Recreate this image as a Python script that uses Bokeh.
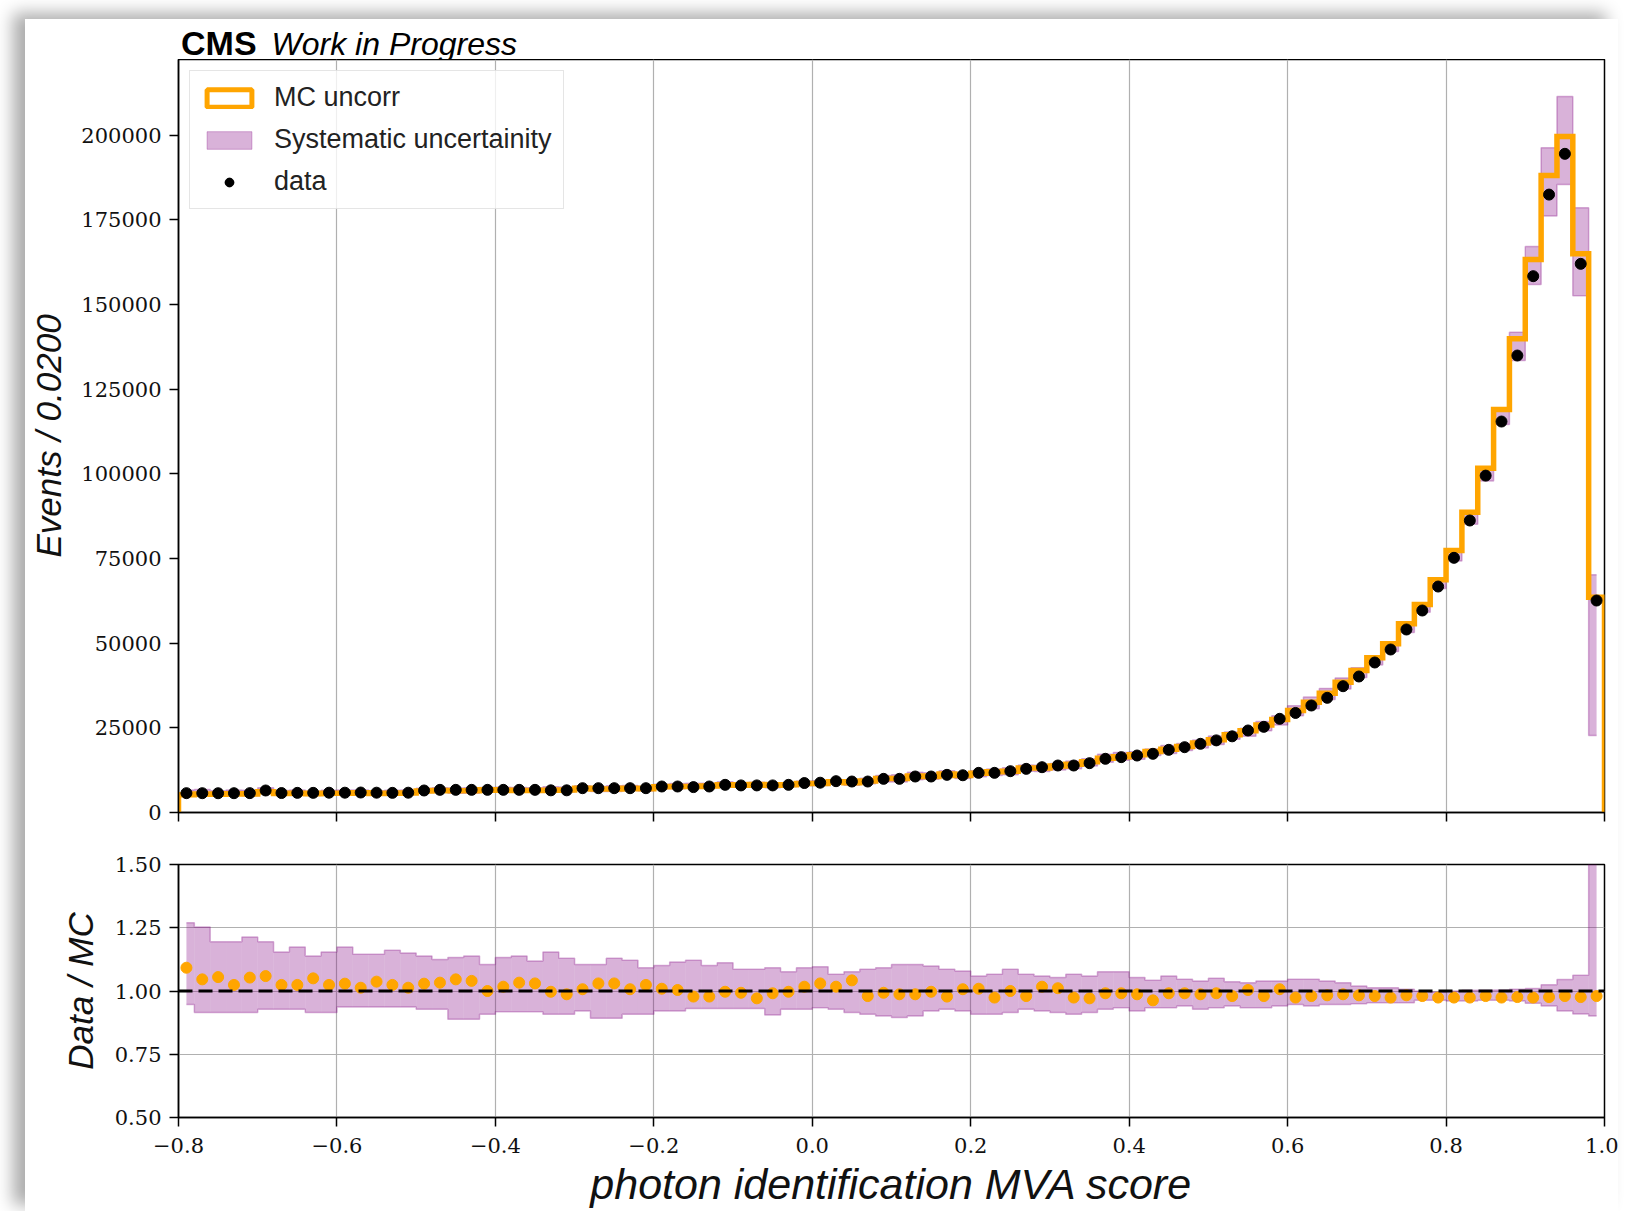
import numpy as np
from bokeh.plotting import figure
from bokeh.models import (Range1d, FixedTicker, CustomJSTickFormatter, Span,
                          Legend, LegendItem, Div)
from bokeh.layouts import column
from bokeh.embed import file_html
from bokeh.resources import INLINE

# ---------------- data ----------------
bin_low, bin_high, n_bins = -0.8, 1.0, 90

data_counts = [5710, 5700, 5690, 5700, 5720, 6500, 5750, 5800, 5800, 5850,
               5850, 5900, 5850, 5800, 5850, 6500, 6690, 6690, 6690, 6690,
               6690, 6690, 6690, 6550, 6550, 7180, 7180, 7180, 7180, 7180,
               7680, 7680, 7500, 7680, 8170, 8000, 8000, 8000, 8170, 8700,
               8800, 9250, 9150, 9150, 9940, 9940, 10630, 10630, 11120, 11000,
               11710, 11710, 12200, 12890, 13380, 13880, 13880, 14570, 15860, 16350,
               16830, 17330, 18510, 19290, 20290, 21300, 22500, 24220, 25300, 27670,
               29400, 31600, 33870, 37300, 40170, 44300, 48140, 54050, 59660, 66740,
               75220, 86240, 99500, 115470, 134970, 158400, 182500, 194540, 162050, 62610]

mc_counts = [5230, 5450, 5390, 5570, 5430, 6140, 5620, 5660, 5520, 5710,
             5690, 5820, 5640, 5660, 5770, 6320, 6480, 6400, 6430, 6690,
             6580, 6480, 6500, 6570, 6640, 7130, 6970, 6970, 7130, 7010,
             7610, 7650, 7670, 7850, 8190, 8060, 8240, 8070, 8190, 8550,
             8540, 9100, 8780, 9340, 10010, 10070, 10770, 10660, 11370, 10920,
             11610, 12020, 12200, 13150, 13160, 13730, 14250, 15010, 16000, 16500,
             17050, 18000, 18680, 19470, 20560, 21490, 22960, 24120, 25820, 27480,
             30150, 32580, 35240, 38490, 41940, 45690, 49820, 55720, 61430, 68720,
             77370, 88700, 101700, 119000, 139900, 163300, 188130, 199650, 165000, 63600]

ratio = [1.092, 1.046, 1.055, 1.024, 1.053, 1.059, 1.024, 1.024, 1.050, 1.024,
         1.029, 1.013, 1.037, 1.024, 1.013, 1.029, 1.033, 1.046, 1.040, 1.000,
         1.017, 1.033, 1.030, 0.997, 0.987, 1.007, 1.030, 1.030, 1.007, 1.024,
         1.009, 1.004, 0.978, 0.978, 0.997, 0.993, 0.971, 0.991, 0.997, 1.017,
         1.030, 1.017, 1.042, 0.980, 0.993, 0.987, 0.987, 0.997, 0.978, 1.007,
         1.009, 0.974, 1.000, 0.980, 1.017, 1.011, 0.974, 0.971, 0.991, 0.991,
         0.987, 0.963, 0.991, 0.991, 0.987, 0.991, 0.980, 1.004, 0.980, 1.007,
         0.974, 0.980, 0.983, 0.987, 0.983, 0.980, 0.974, 0.983, 0.980, 0.974,
         0.974, 0.974, 0.980, 0.974, 0.976, 0.974, 0.976, 0.980, 0.976, 0.980]

syst_ratio_hi = [1.270, 1.253, 1.195, 1.195, 1.213, 1.195, 1.154, 1.174, 1.138, 1.154,
                 1.174, 1.145, 1.145, 1.161, 1.150, 1.138, 1.125, 1.132, 1.138, 1.105,
                 1.132, 1.138, 1.119, 1.154, 1.129, 1.105, 1.105, 1.129, 1.122, 1.092,
                 1.101, 1.115, 1.122, 1.101, 1.112, 1.086, 1.086, 1.092, 1.076, 1.092,
                 1.096, 1.066, 1.076, 1.086, 1.092, 1.105, 1.105, 1.099, 1.086, 1.079,
                 1.059, 1.066, 1.086, 1.066, 1.059, 1.053, 1.066, 1.059, 1.076, 1.076,
                 1.053, 1.042, 1.059, 1.046, 1.040, 1.050, 1.037, 1.033, 1.040, 1.040,
                 1.046, 1.046, 1.040, 1.033, 1.020, 1.013, 1.013, 1.007, 1.000, 0.996,
                 1.000, 1.003, 1.003, 1.004, 1.007, 1.010, 1.025, 1.045, 1.062, 1.620]

syst_ratio_lo = [0.947, 0.915, 0.915, 0.915, 0.915, 0.928, 0.928, 0.928, 0.915, 0.915,
                 0.937, 0.937, 0.937, 0.937, 0.937, 0.928, 0.928, 0.888, 0.888, 0.908,
                 0.918, 0.918, 0.918, 0.908, 0.908, 0.921, 0.892, 0.892, 0.908, 0.908,
                 0.921, 0.921, 0.931, 0.931, 0.931, 0.931, 0.931, 0.905, 0.928, 0.928,
                 0.934, 0.928, 0.915, 0.908, 0.901, 0.895, 0.901, 0.921, 0.928, 0.921,
                 0.908, 0.908, 0.915, 0.928, 0.921, 0.915, 0.908, 0.915, 0.928, 0.934,
                 0.921, 0.934, 0.934, 0.941, 0.928, 0.934, 0.941, 0.934, 0.934, 0.941,
                 0.947, 0.941, 0.947, 0.947, 0.950, 0.954, 0.954, 0.954, 0.963, 0.963,
                 0.960, 0.960, 0.963, 0.963, 0.960, 0.952, 0.941, 0.921, 0.909, 0.901]

# systematic band in the upper panel where it is visible apart from MC (bin index: (low, high))
syst_top_read = {84: (133490, 141850), 85: (155930, 167160), 86: (176200, 196300),
                 87: (185480, 211470), 88: (152600, 178600), 89: (22740, 70200)}

x_ticks = [-0.8, -0.6, -0.4, -0.2, 0.0, 0.2, 0.4, 0.6, 0.8, 1.0]
y_ticks_top = [0, 25000, 50000, 75000, 100000, 125000, 150000, 175000, 200000]
y_ticks_ratio = [0.5, 0.75, 1.0, 1.25, 1.5]
y_max_top = 222400

# ---------------- derived arrays ----------------
edges = np.linspace(bin_low, bin_high, n_bins + 1)
centers = 0.5 * (edges[:-1] + edges[1:])
data_a = np.array(data_counts, float)
mc_a = np.array(mc_counts, float)
r_hi = np.array(syst_ratio_hi)
r_lo = np.array(syst_ratio_lo)
band_top_lo = mc_a * r_lo
band_top_hi = mc_a * r_hi
for i, (lo, hi) in syst_top_read.items():
    band_top_lo[i] = lo
    band_top_hi[i] = hi

# band is drawn from first to last bin centre (step="mid" style)
clipped = np.clip(edges, centers[0], centers[-1])
band_left, band_right = clipped[:-1], clipped[1:]


def step_outline(left, right, vals):
    xs = np.column_stack([left, right]).ravel()
    ys = np.repeat(vals, 2)
    return xs, ys


ORANGE = "#ffa500"
PURPLE = "#800080"
GRID = "#b0b0b0"
SERIF = "DejaVu Serif"
SANS = "Liberation Sans"
NAN1 = [np.nan]

# ---------------- header text ----------------
header = Div(
    text=('<div style="font-family:\'Liberation Sans\'; color:#000; white-space:nowrap; '
          'line-height:32px; padding-top:8px; padding-left:156px;">'
          '<span style="font-weight:bold; font-size:34px;">CMS</span>'
          '<span style="font-style:italic; font-size:32px; margin-left:15px;">Work in Progress</span>'
          '</div>'),
    width=1593, height=40, margin=0)

# ---------------- upper panel ----------------
p = figure(frame_width=1426, frame_height=753,
           x_range=Range1d(bin_low, bin_high), y_range=Range1d(0, y_max_top),
           output_backend="svg", toolbar_location=None, title=None,
           min_border_left=153, min_border_right=14, min_border_top=0, min_border_bottom=26,
           background_fill_color="white", border_fill_color="white")

band_r = p.quad(left=band_left, right=band_right, bottom=band_top_lo, top=band_top_hi,
                fill_color=PURPLE, fill_alpha=0.3, line_color=None)
for arr in (band_top_lo, band_top_hi):
    xs, ys = step_outline(band_left, band_right, arr)
    p.line(xs, ys, line_color=PURPLE, line_alpha=0.3, line_width=1.5)

mc_x = np.repeat(edges, 2)
mc_y = np.concatenate([[0], np.repeat(mc_a, 2), [0]])
p.line(mc_x, mc_y, line_color=ORANGE, line_width=5.5, line_join="miter")

data_r = p.scatter(centers, data_a, size=11, color="black")

# legend proxies (NaN -> not drawn in the plot)
mc_leg = p.quad(left=NAN1, right=NAN1, top=NAN1, bottom=NAN1, fill_color="white",
                line_color=ORANGE, line_width=5)
band_leg = p.quad(left=NAN1, right=NAN1, top=NAN1, bottom=NAN1,
                  fill_color=PURPLE, fill_alpha=0.3, line_color=PURPLE, line_alpha=0.3)
data_leg_cross = p.scatter(x=NAN1, y=NAN1, marker="cross", size=20,
                           line_color="black", line_width=3)
data_leg_dot = p.scatter(x=NAN1, y=NAN1, size=11, color="black")

legend = Legend(items=[
    LegendItem(label="MC uncorr", renderers=[mc_leg]),
    LegendItem(label="Systematic uncertainity", renderers=[band_leg]),
    LegendItem(label="data", renderers=[data_leg_cross, data_leg_dot]),
], location="top_left")
legend.label_text_font = SANS
legend.label_text_font_size = "27px"
legend.label_text_color = "#222222"
legend.glyph_width = 56
legend.glyph_height = 22
legend.label_standoff = 17
legend.label_height = 30
legend.spacing = 11
legend.padding = 11
legend.margin = 11
legend.border_line_color = "#cccccc"
legend.border_line_width = 1.5
legend.background_fill_color = "white"
legend.background_fill_alpha = 0.8
p.add_layout(legend)

p.xaxis.ticker = FixedTicker(ticks=x_ticks)
p.xaxis.formatter = CustomJSTickFormatter(code="return '';")
p.xaxis.major_label_standoff = 0
p.yaxis.ticker = FixedTicker(ticks=y_ticks_top)
p.yaxis.formatter = CustomJSTickFormatter(code="return tick.toFixed(0);")
p.yaxis.axis_label = "Events / 0.0200"
p.yaxis.axis_label_standoff = 10
p.yaxis.major_label_standoff = 8

p.xgrid.ticker = FixedTicker(ticks=x_ticks)
p.ygrid.visible = False

# ---------------- ratio panel ----------------
p2 = figure(frame_width=1426, frame_height=253,
            x_range=p.x_range, y_range=Range1d(0.5, 1.5),
            output_backend="svg", toolbar_location=None, title=None,
            min_border_left=153, min_border_right=14, min_border_top=26, min_border_bottom=94,
            background_fill_color="white", border_fill_color="white")

p2.quad(left=band_left, right=band_right, bottom=r_lo, top=r_hi,
        fill_color=PURPLE, fill_alpha=0.3, line_color=None)
for arr in (r_lo, r_hi):
    xs, ys = step_outline(band_left, band_right, arr)
    p2.line(xs, ys, line_color=PURPLE, line_alpha=0.3, line_width=1.5)

p2.add_layout(Span(location=1.0, dimension="width", line_color="black",
                   line_width=3, line_dash="14 6"))
p2.scatter(centers, ratio, size=11, color=ORANGE)

p2.xaxis.ticker = FixedTicker(ticks=x_ticks)
p2.xaxis.formatter = CustomJSTickFormatter(
    code="var s = Math.abs(tick).toFixed(1); return (tick < -1e-9 ? '\u2212' : '') + s;")
p2.xaxis.axis_label = "photon identification MVA score"
p2.xaxis.axis_label_standoff = 4
p2.xaxis.major_label_standoff = 11
p2.yaxis.ticker = FixedTicker(ticks=y_ticks_ratio)
p2.yaxis.formatter = CustomJSTickFormatter(code="return tick.toFixed(2);")
p2.yaxis.axis_label = "Data / MC"
p2.yaxis.axis_label_standoff = 12
p2.yaxis.major_label_standoff = 8
p2.xgrid.ticker = FixedTicker(ticks=x_ticks)
p2.ygrid.ticker = FixedTicker(ticks=y_ticks_ratio)

# ---------------- common styling ----------------
for fig in (p, p2):
    fig.outline_line_color = "black"
    fig.outline_line_width = 1.5
    fig.outline_line_alpha = 1
    for g in (fig.xgrid, fig.ygrid):
        g.grid_line_color = GRID
        g.grid_line_width = 1.2
    for ax in (fig.xaxis, fig.yaxis):
        ax.axis_line_color = "black"
        ax.axis_line_width = 1.5
        ax.major_tick_line_color = "black"
        ax.major_tick_line_width = 1.5
        ax.major_tick_out = 9
        ax.major_tick_in = 0
        ax.minor_tick_line_color = None
        ax.major_label_text_font = SERIF
        ax.major_label_text_font_size = "21px"
        ax.major_label_text_color = "#111111"
        ax.axis_label_text_font = SANS
        ax.axis_label_text_font_style = "italic"
        ax.axis_label_text_color = "#111111"
    fig.yaxis.axis_label_text_font_size = "35px"
p2.xaxis.axis_label_text_font_size = "43px"

layout = column(header, p, p2, margin=(19, 0, 0, 25), spacing=0,
                styles={"box-shadow": "-12px -6px 16px rgba(0,0,0,0.33)",
                        "background-color": "white"})

open("out.html", "w").write(file_html(layout, INLINE))
